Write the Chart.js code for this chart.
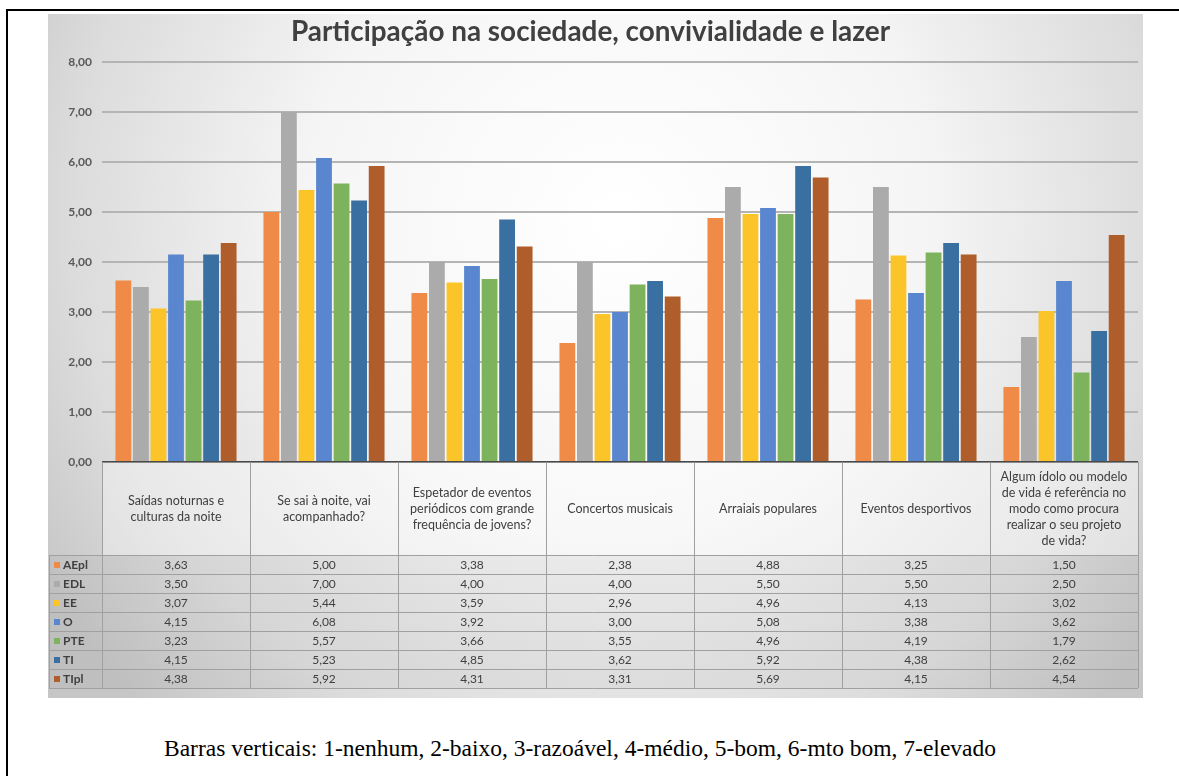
<!DOCTYPE html>
<html><head><meta charset="utf-8">
<script src="https://cdn.jsdelivr.net/npm/chart.js@4.4.1/dist/chart.umd.min.js"></script>
<style>
html,body{margin:0;padding:0;background:#fff;width:1179px;height:776px;overflow:hidden;}
#frame{position:absolute;left:6px;top:9px;width:1200px;height:800px;border-left:2px solid #000;border-top:2px solid #000;}
#wrap{position:absolute;left:48px;top:14px;width:1095px;height:684px;}
#caption{position:absolute;left:0;width:1160px;top:735px;text-align:center;font-family:"Liberation Serif","Times New Roman",serif;font-size:23.5px;color:#000;white-space:nowrap;}
</style></head><body>
<div id="frame"></div>
<div id="wrap"><canvas id="c" width="1095" height="684"></canvas></div>
<div id="caption"></div>
<script>
const chartTitle = 'Participação na sociedade, convivialidade e lazer';
const categories = [
  ['Saídas noturnas e', 'culturas da noite'],
  ['Se sai à noite, vai', 'acompanhado?'],
  ['Espetador de eventos', 'periódicos com grande', 'frequência de jovens?'],
  ['Concertos musicais'],
  ['Arraiais populares'],
  ['Eventos desportivos'],
  ['Algum ídolo ou modelo', 'de vida é referência no', 'modo como procura', 'realizar o seu projeto', 'de vida?']
];
const seriesNames = ['AEpl', 'EDL', 'EE', 'O', 'PTE', 'TI', 'TIpl'];
const AEpl = [3.63, 5.00, 3.38, 2.38, 4.88, 3.25, 1.50];
const EDL  = [3.50, 7.00, 4.00, 4.00, 5.50, 5.50, 2.50];
const EE   = [3.07, 5.44, 3.59, 2.96, 4.96, 4.13, 3.02];
const O    = [4.15, 6.08, 3.92, 3.00, 5.08, 3.38, 3.62];
const PTE  = [3.23, 5.57, 3.66, 3.55, 4.96, 4.19, 1.79];
const TI   = [4.15, 5.23, 4.85, 3.62, 5.92, 4.38, 2.62];
const TIpl = [4.38, 5.92, 4.31, 3.31, 5.69, 4.15, 4.54];
const yTickLabels = ['0,00', '1,00', '2,00', '3,00', '4,00', '5,00', '6,00', '7,00', '8,00'];
const caption = 'Barras verticais: 1-nenhum, 2-baixo, 3-razoável, 4-médio, 5-bom, 6-mto bom, 7-elevado';

document.getElementById('caption').textContent = caption;

const seriesValues = [AEpl, EDL, EE, O, PTE, TI, TIpl];
const seriesColors = ['#EF8A47', '#ABABAB', '#FBC52A', '#5A86CF', '#7DB35C', '#3A6FA2', '#AF5E2B'];

const FONT = 'Lato, "Open Sans", "DejaVu Sans", sans-serif';
Chart.defaults.font.family = FONT;

const fmt = v => v.toFixed(2).replace('.', ',');

const HEADER_H = 93;
const ROW_H = 19;

const tablePlugin = {
  id: 'tablePlugin',
  beforeDraw(chart) {
    const { ctx, width, height } = chart;
    ctx.save();
    const g = ctx.createRadialGradient(width * 0.52, height * 0.3, 10, width * 0.52, height * 0.3, width * 0.62);
    g.addColorStop(0, '#ffffff');
    g.addColorStop(0.45, '#f5f5f5');
    g.addColorStop(0.8, '#dcdcdc');
    g.addColorStop(1, '#c6c6c6');
    ctx.fillStyle = g;
    ctx.fillRect(0, 0, width, height);
    ctx.restore();
  },
  afterDraw(chart) {
    const { ctx } = chart;
    const ca = chart.chartArea;
    const xs = chart.scales.x;
    const n = categories.length;
    const colW = (ca.right - ca.left) / n;
    const top = ca.bottom;
    const hdrBottom = top + HEADER_H;
    const tblBottom = hdrBottom + ROW_H * seriesNames.length;
    const tblLeft = 1;
    ctx.save();

    // title
    ctx.fillStyle = '#404040';
    ctx.textAlign = 'center';
    ctx.textBaseline = 'middle';
    ctx.font = 'bold 24px ' + FONT;
    const w24 = ctx.measureText(chartTitle).width;
    const fs = 24 * 600 / w24;
    ctx.font = 'bold ' + fs.toFixed(1) + 'px ' + FONT;
    ctx.fillText(chartTitle, chart.width / 2 - 5, 18);

    // header / body fills
    ctx.fillStyle = 'rgba(255,255,255,0.35)';
    ctx.fillRect(ca.left, top, ca.right - ca.left, HEADER_H);
    ctx.fillStyle = 'rgba(0,0,0,0.03)';
    ctx.fillRect(tblLeft, hdrBottom, ca.right - tblLeft, tblBottom - hdrBottom);

    // table grid lines
    ctx.strokeStyle = '#a0a0a0';
    ctx.lineWidth = 1;
    ctx.beginPath();
    for (let i = 0; i <= n; i++) {
      const x = Math.round(ca.left + i * colW) + 0.5;
      ctx.moveTo(x, top);
      ctx.lineTo(x, tblBottom);
    }
    ctx.moveTo(tblLeft + 0.5, hdrBottom);
    ctx.lineTo(tblLeft + 0.5, tblBottom);
    for (let r = 0; r <= seriesNames.length; r++) {
      const y = Math.round(hdrBottom + r * ROW_H) + 0.5;
      ctx.moveTo(tblLeft, y);
      ctx.lineTo(ca.right, y);
    }
    ctx.stroke();

    // header text
    ctx.fillStyle = '#404040';
    ctx.font = '12.5px ' + FONT;
    ctx.textAlign = 'center';
    ctx.textBaseline = 'middle';
    const lh = 16;
    categories.forEach((lines, i) => {
      const cx = xs.getPixelForValue(i);
      const cy = top + HEADER_H / 2;
      const y0 = cy - (lines.length - 1) * lh / 2;
      lines.forEach((ln, k) => ctx.fillText(ln, cx, y0 + k * lh));
    });

    // data rows
    seriesNames.forEach((name, r) => {
      const cy = hdrBottom + r * ROW_H + ROW_H / 2 + 0.5;
      ctx.fillStyle = seriesColors[r];
      ctx.fillRect(tblLeft + 5, cy - 3, 6, 6);
      ctx.fillStyle = '#404040';
      ctx.font = 'bold 12px ' + FONT;
      ctx.textAlign = 'left';
      ctx.fillText(name, tblLeft + 14, cy);
      ctx.font = '12px ' + FONT;
      ctx.textAlign = 'center';
      seriesValues[r].forEach((v, i) => {
        ctx.fillText(fmt(v), xs.getPixelForValue(i), cy);
      });
    });
    ctx.restore();
  }
};

new Chart(document.getElementById('c'), {
  type: 'bar',
  data: {
    labels: categories.map(l => l.join(' ')),
    datasets: seriesNames.map((name, i) => ({
      label: name,
      data: seriesValues[i],
      backgroundColor: seriesColors[i],
      borderWidth: 0,
      categoryPercentage: 0.83,
      barPercentage: 0.9
    }))
  },
  options: {
    responsive: false,
    animation: false,
    devicePixelRatio: 1,
    layout: { padding: { left: 0, right: 5, top: 48, bottom: 236 } },
    plugins: { legend: { display: false }, title: { display: false }, tooltip: { enabled: false } },
    scales: {
      x: { display: false },
      y: {
        min: 0, max: 8,
        ticks: {
          stepSize: 1,
          padding: 10,
          color: '#595959',
          font: { size: 12, weight: 'bold' },
          callback: v => yTickLabels[v]
        },
        border: { display: false },
        grid: {
          drawTicks: false,
          color: c => c.tick.value === 0 ? '#4a4a4a' : '#b4b4b4',
          lineWidth: 2
        },
        afterFit(scale) { scale.width = 54; }
      }
    }
  },
  plugins: [tablePlugin]
});
</script>
</body></html>
